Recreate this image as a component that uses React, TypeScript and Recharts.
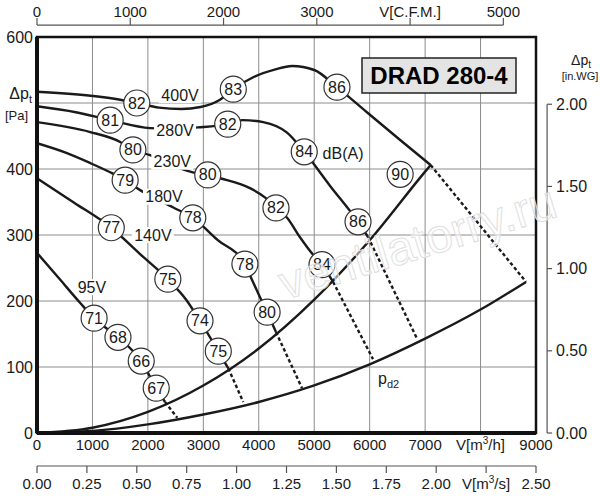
import React from 'react';
import { ComposedChart, Line, Scatter, XAxis, YAxis, CartesianGrid, ReferenceArea, ReferenceLine } from 'recharts';

const FONT = "'Liberation Sans', Arial, sans-serif";
const INK = '#1a1a1a';
const AXIS_GREY = '#555';

// axis ticks
const flowTicks = [0, 1000, 2000, 3000, 4000, 5000, 6000, 7000, 8000, 9000];
const paTicks = [0, 100, 200, 300, 400, 500, 600];
const cfmTicks = [0, 1000, 2000, 3000, 4000, 5000];
const m3sTicks = [0, 0.25, 0.5, 0.75, 1, 1.25, 1.5, 1.75, 2, 2.25, 2.5];
const inwgTicks = [0, 0.5, 1, 1.5, 2];

// fan curves per voltage, [V m3/h, dp Pa]
const curve400V = [[0, 517], [970, 511], [1500, 505], [1800, 500], [2200, 493], [2600, 491], [2950, 494], [3300, 505], [3540, 521], [3900, 539], [4300, 551], [4600, 556], [5000, 550], [5410, 524], [5950, 486], [6550, 444], [7100, 406]];
const curve280V = [[0, 495], [700, 486], [1320, 474], [2040, 462], [2500, 461], [2900, 463], [3440, 468], [3710, 474], [4080, 471], [4510, 455], [4820, 426], [5290, 374], [5790, 320], [5970, 297]];
const curve230V = [[0, 471], [960, 456], [1500, 441], [1730, 429], [2040, 421], [2450, 405], [2810, 395], [3080, 391], [3300, 386], [3840, 371], [4110, 357], [4310, 341], [4510, 326], [4740, 297], [4980, 270], [5140, 255], [5340, 229]];
const curve180V = [[0, 439], [540, 424], [960, 409], [1320, 395], [1590, 383], [1860, 368], [2450, 342], [2810, 326], [3250, 293], [3750, 256], [3840, 239], [4020, 206], [4150, 183], [4310, 153]];
const curve140V = [[0, 386], [670, 349], [1340, 311], [1860, 271], [2360, 233], [2690, 202], [2940, 170], [3270, 124], [3450, 98]];
const curve95V = [[0, 273], [400, 234], [780, 197], [1030, 174], [1460, 145], [1880, 109], [2150, 68], [2310, 47]];

// system curve through the curve ends, and dynamic pressure pd2
const systemCurve = [[0, 0], [1000, 8], [2000, 32], [3000, 72], [4000, 128], [5000, 202], [6000, 292], [7000, 396], [7100, 406]];
const pd2Curve = [[0, 0], [1000, 3], [2000, 13], [3000, 28], [4000, 47], [5000, 72], [6000, 104], [7000, 143], [8000, 187], [8820, 229]];

// dotted continuations down to pd2
const dotted = [
  [[2310, 47], [2530, 23]],
  [[3450, 98], [3720, 47]],
  [[4310, 153], [4780, 68]],
  [[5340, 229], [6060, 112]],
  [[5970, 297], [6860, 142]],
  [[7100, 406], [8820, 229]],
];

// dB(A) bubbles [V, dp, value]
const bubbles400V = [[1800, 500, '82'], [3540, 521, '83'], [5410, 524, '86']];
const bubbles280V = [[1320, 474, '81'], [3440, 468, '82'], [4820, 426, '84'], [5790, 320, '86']];
const bubbles230V = [[1730, 429, '80'], [3080, 391, '80'], [4310, 341, '82'], [5140, 255, '84']];
const bubbles180V = [[1590, 383, '79'], [2810, 326, '78'], [3750, 256, '78'], [4150, 183, '80']];
const bubbles140V = [[1340, 311, '77'], [2360, 233, '75'], [2940, 170, '74'], [3270, 124, '75']];
const bubbles95V = [[1030, 174, '71'], [1460, 145, '68'], [1880, 109, '66'], [2150, 68, '67']];
const bubblesOther = [[6550, 392, '90']];

// curve labels [V, dp, text]
const voltLabels = [[2580, 512, '400V'], [2490, 459, '280V'], [2440, 411, '230V'], [2290, 358, '180V'], [2090, 300, '140V'], [990, 221, '95V']];
const unitLabels = [[5520, 424, 'dB(A)']];
const pd2Label = [[6150, 80, 'd2']];

// secondary axes: C.F.M. scale across the plot width, in.WG across the Pa height
const CFM_MAX = 5350;
const INWG_MAX = 2.409;
const CFM_LINE_Y = 618; // Pa level of the C.F.M. axis line above the frame
const INWG_LINE_X = 9200; // m3/h position of the in.WG axis line right of the frame

const toPts = (arr: number[][]) => arr.map(([x, y]) => ({ x, y }));
const toMarks = (arr: (number | string)[][]) => arr.map(([x, y, t]) => ({ x, y, t }));

const allBubbles = toMarks([...bubbles400V, ...bubbles280V, ...bubbles230V, ...bubbles180V, ...bubbles140V, ...bubbles95V, ...bubblesOther]);
// rows that give the secondary axes something to bind to
const axisRows = m3sTicks.map((v, i) => ({ m3s: v, cfm: i < cfmTicks.length ? cfmTicks[i] : undefined, inwg: i < inwgTicks.length ? inwgTicks[i] : undefined }));

function FlowTick({ x, y, payload }: any) {
  const v = payload.value;
  return (
    <text x={x} y={y + 17} textAnchor="middle" fontSize={15} fontFamily={FONT} fill={INK}>
      {v === 8000 ? (
        <>
          V[m<tspan dy={-6} fontSize={10}>3</tspan>
          <tspan dy={6}>/h]</tspan>
        </>
      ) : (
        v
      )}
    </text>
  );
}

function PaTick({ x, y, payload }: any) {
  if (payload.value === 500) {
    return (
      <g fontFamily={FONT} fill={INK}>
        <text x={x - 5} y={y - 4.5} textAnchor="end" fontSize={16}>
          Δp<tspan dy={4} fontSize={11}>t</tspan>
        </text>
        <text x={x - 9} y={y + 16.5} textAnchor="end" fontSize={13}>
          [Pa]
        </text>
      </g>
    );
  }
  return (
    <text x={x - 4} y={y + 5.5} textAnchor="end" fontSize={16} fontFamily={FONT} fill={INK}>
      {payload.value}
    </text>
  );
}

function CfmTick({ x, y, payload }: any) {
  return (
    <g>
      <line x1={x} x2={x} y1={y - 12} y2={y - 19} stroke={AXIS_GREY} strokeWidth={1.2} />
      <text x={x} y={y - 20} textAnchor="middle" fontSize={15} fontFamily={FONT} fill={INK}>
        {payload.value === 4000 ? 'V[C.F.M.]' : payload.value}
      </text>
    </g>
  );
}

function M3sTick({ x, y, payload }: any) {
  const v = Number(payload.value);
  return (
    <text x={x} y={y + 15.5} textAnchor="middle" fontSize={15} fontFamily={FONT} fill={INK}>
      {v === 2.25 ? (
        <>
          V[m<tspan dy={-6} fontSize={10}>3</tspan>
          <tspan dy={6}>/s]</tspan>
        </>
      ) : (
        v.toFixed(2)
      )}
    </text>
  );
}

function InwgTick({ x, y, payload }: any) {
  return (
    <g>
      <line x1={x + 11} x2={x + 16} y1={y} y2={y} stroke={AXIS_GREY} strokeWidth={1.2} />
      <text x={x + 20} y={y + 5.5} textAnchor="start" fontSize={16} fontFamily={FONT} fill={INK}>
        {Number(payload.value).toFixed(2)}
      </text>
    </g>
  );
}

function Bubble({ cx, cy, payload }: any) {
  return (
    <g>
      <circle cx={cx} cy={cy} r={13} fill="#fff" stroke="#333" strokeWidth={1.2} />
      <text x={cx} y={cy + 5.5} textAnchor="middle" fontSize={16} fontFamily={FONT} fill={INK}>
        {payload.t}
      </text>
    </g>
  );
}

function VoltLabel({ cx, cy, payload }: any) {
  const w = String(payload.t).length * 9.5 + 4;
  return (
    <g>
      <rect x={cx - w / 2} y={cy - 8} width={w} height={16} fill="#fff" />
      <text x={cx} y={cy + 5.5} textAnchor="middle" fontSize={16} fontFamily={FONT} fill={INK}>
        {payload.t}
      </text>
    </g>
  );
}

function PlainLabel({ cx, cy, payload }: any) {
  return (
    <text x={cx} y={cy + 5.5} textAnchor="middle" fontSize={16} fontFamily={FONT} fill={INK}>
      {payload.t}
    </text>
  );
}

function Pd2Label({ cx, cy, payload }: any) {
  return (
    <text x={cx} y={cy + 4} textAnchor="start" fontSize={16} fontFamily={FONT} fill={INK}>
      p<tspan dy={4} fontSize={11}>{payload.t}</tspan>
    </text>
  );
}

const layer: React.CSSProperties = { position: 'absolute', left: 0, top: 0 };

export default function App() {
  const solid = [systemCurve, pd2Curve, curve400V, curve280V, curve230V, curve180V, curve140V, curve95V];
  return (
    <div style={{ position: 'absolute', left: 0, top: 0, width: 600, height: 500, background: '#fff', fontFamily: FONT }}>
      <div style={layer}>
        <ComposedChart width={600} height={500} data={axisRows} margin={{ top: 0, right: 0, left: 0, bottom: 0 }}>
          <CartesianGrid stroke="#8c8c8c" strokeWidth={1} />
          <XAxis
            dataKey="x"
            type="number"
            domain={[0, 9000]}
            ticks={flowTicks}
            interval={0}
            height={33}
            tickSize={0}
            tickMargin={0}
            tickLine={false}
            axisLine={{ stroke: '#111', strokeWidth: 4 }}
            tick={(p: any) => <FlowTick {...p} />}
            allowDataOverflow
          />
          <XAxis
            xAxisId="m3s"
            dataKey="m3s"
            type="number"
            domain={[0, 2.5]}
            ticks={m3sTicks}
            interval={0}
            height={34}
            tickSize={7}
            tickMargin={0}
            axisLine={{ stroke: AXIS_GREY, strokeWidth: 1.2 }}
            tickLine={{ stroke: AXIS_GREY, strokeWidth: 1.2 }}
            tick={(p: any) => <M3sTick {...p} />}
            allowDataOverflow
          />
          <XAxis
            xAxisId="cfm"
            dataKey="cfm"
            orientation="top"
            type="number"
            domain={[0, CFM_MAX]}
            ticks={cfmTicks}
            interval={0}
            height={37}
            tickSize={0}
            tickMargin={0}
            tickLine={false}
            axisLine={false}
            tick={(p: any) => <CfmTick {...p} />}
            allowDataOverflow
          />
          <YAxis
            type="number"
            domain={[0, 600]}
            ticks={paTicks}
            interval={0}
            width={37}
            tickSize={0}
            tickMargin={0}
            tickLine={false}
            axisLine={{ stroke: '#111', strokeWidth: 4 }}
            tick={(p: any) => <PaTick {...p} />}
            allowDataOverflow
          />
          <YAxis
            yAxisId="inwg"
            dataKey="inwg"
            orientation="right"
            type="number"
            domain={[0, INWG_MAX]}
            ticks={inwgTicks}
            interval={0}
            width={64}
            tickSize={0}
            tickMargin={0}
            tickLine={false}
            axisLine={false}
            tick={(p: any) => <InwgTick {...p} />}
            allowDataOverflow
          />
          <ReferenceArea x1={0} x2={9000} y1={0} y2={600} fill="none" fillOpacity={0} stroke="#111" strokeWidth={2.5} ifOverflow="visible" />
          <ReferenceLine
            xAxisId="cfm"
            segment={[{ x: 0, y: CFM_LINE_Y }, { x: 5000, y: CFM_LINE_Y }]}
            stroke={AXIS_GREY}
            strokeWidth={1.2}
            ifOverflow="visible"
          />
          <ReferenceLine
            yAxisId="inwg"
            segment={[{ x: INWG_LINE_X, y: 0 }, { x: INWG_LINE_X, y: 2 }]}
            stroke={AXIS_GREY}
            strokeWidth={1.2}
            ifOverflow="visible"
          />
          {solid.map((c, i) => (
            <Line
              key={'s' + i}
              name={'s' + i}
              data={toPts(c)}
              dataKey="y"
              type="monotone"
              stroke={INK}
              strokeWidth={2.4}
              dot={false}
              activeDot={false}
              isAnimationActive={false}
            />
          ))}
          {dotted.map((c, i) => (
            <Line
              key={'d' + i}
              name={'d' + i}
              data={toPts(c)}
              dataKey="y"
              type="linear"
              stroke={INK}
              strokeWidth={2.4}
              strokeDasharray="3.5 2.5"
              dot={false}
              activeDot={false}
              isAnimationActive={false}
            />
          ))}
          <Scatter name="bubbles" data={allBubbles} dataKey="y" shape={(p: any) => <Bubble {...p} />} isAnimationActive={false} />
          <Scatter name="volts" data={toMarks(voltLabels)} dataKey="y" shape={(p: any) => <VoltLabel {...p} />} isAnimationActive={false} />
          <Scatter name="units" data={toMarks(unitLabels)} dataKey="y" shape={(p: any) => <PlainLabel {...p} />} isAnimationActive={false} />
          <Scatter name="pd2" data={toMarks(pd2Label)} dataKey="y" shape={(p: any) => <Pd2Label {...p} />} isAnimationActive={false} />
        </ComposedChart>
      </div>

      {/* title, right-axis header, watermark */}
      <svg width={600} height={500} style={{ ...layer, pointerEvents: 'none' }}>
        <text
          x={285}
          y={300}
          transform="rotate(-17 285 300)"
          fontSize={48}
          fontFamily={FONT}
          fill="rgba(255,255,255,0.55)"
          stroke="#e0e0e0"
          strokeWidth={1}
        >
          ventilatorry.ru
        </text>
        <text x={581} y={65} textAnchor="middle" fontSize={14} fontFamily={FONT} fill={INK}>
          Δp<tspan dy={3} fontSize={10}>t</tspan>
        </text>
        <text x={580} y={80} textAnchor="middle" fontSize={11} fontFamily={FONT} fill={INK}>
          [in.WG]
        </text>
        <rect x={362} y={58} width={154} height={35} fill="#e4e4e4" stroke="#222" strokeWidth={1.5} />
        <text x={439} y={84} textAnchor="middle" fontSize={24} fontWeight="bold" fontFamily={FONT} fill="#000">
          DRAD 280-4
        </text>
      </svg>
    </div>
  );
}
